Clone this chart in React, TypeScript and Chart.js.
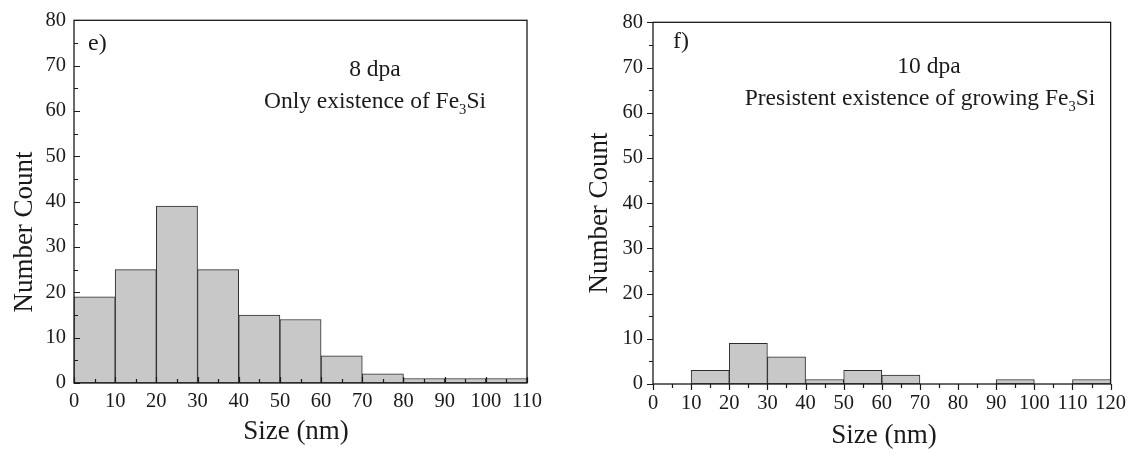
import React, { useEffect, useRef } from "react";
import { Chart, registerables } from "chart.js";

Chart.register(...registerables);

// ---- data ----
const binStartE = [0, 10, 20, 30, 40, 50, 60, 70, 80, 90, 100];
const countE = [19, 25, 39, 25, 15, 14, 6, 2, 1, 1, 1];
const binStartF = [0, 10, 20, 30, 40, 50, 60, 70, 80, 90, 100, 110];
const countF = [0, 3, 9, 6, 1, 3, 2, 0, 0, 1, 0, 1];
const binWidth = 10;
const yMax = 80;
const xMaxE = 110;
const xMaxF = 120;
const xTitle = "Size (nm)";
const yTitle = "Number Count";
const panelE = "e)";
const panelF = "f)";
const noteE1 = "8 dpa";
const noteE2 = [{ t: "Only existence of Fe" }, { t: "3", sub: true }, { t: "Si" }];
const noteF1 = "10 dpa";
const noteF2 = [{ t: "Presistent existence of growing Fe" }, { t: "3", sub: true }, { t: "Si" }];

const SERIF = "'Liberation Serif', 'Times New Roman', serif";
const INK = "#1a1a1a";

type Part = { t: string; sub?: boolean };

function drawRich(ctx: CanvasRenderingContext2D, parts: Part[], cx: number, y: number, size: number) {
  const subSize = size * 0.62;
  let total = 0;
  for (const p of parts) {
    ctx.font = `${p.sub ? subSize : size}px ${SERIF}`;
    total += ctx.measureText(p.t).width;
  }
  let x = cx - total / 2;
  ctx.textAlign = "left";
  ctx.textBaseline = "alphabetic";
  for (const p of parts) {
    ctx.font = `${p.sub ? subSize : size}px ${SERIF}`;
    ctx.fillText(p.t, x, p.sub ? y + size * 0.25 : y);
    x += ctx.measureText(p.t).width;
  }
}

type Cfg = {
  width: number;
  binStart: number[];
  counts: number[];
  xMax: number;
  area: { left: number; right: number; top: number; bottom: number };
  inward: boolean;
  panel: string;
  panelPos: [number, number];
  note1: string;
  note1Pos: [number, number];
  note2: Part[];
  note2Pos: [number, number];
  yTitlePos: [number, number];
  xTitlePos: [number, number];
  yPad: number;
  xPad: number;
};

function makeOverlay(c: Cfg) {
  return {
    id: "overlay",
    afterDraw(chart: any) {
      const ctx: CanvasRenderingContext2D = chart.ctx;
      const a = chart.chartArea;
      const xs = chart.scales.x;
      const ys = chart.scales.y;
      ctx.save();
      ctx.strokeStyle = INK;
      ctx.lineWidth = 1.3;
      ctx.strokeRect(a.left, a.top, a.right - a.left, a.bottom - a.top);
      ctx.lineWidth = 1.2;
      const dir = c.inward ? -1 : 1;
      ctx.beginPath();
      for (let v = 0; v <= c.xMax; v += 5) {
        const px = Math.round(xs.getPixelForValue(v)) + 0.5;
        const len = v % 10 === 0 ? 6 : 4;
        ctx.moveTo(px, a.bottom);
        ctx.lineTo(px, a.bottom + dir * len);
      }
      for (let v = 0; v <= yMax; v += 5) {
        const py = Math.round(ys.getPixelForValue(v)) + 0.5;
        const len = v % 10 === 0 ? 6 : 4;
        ctx.moveTo(a.left, py);
        ctx.lineTo(a.left - dir * len, py);
      }
      ctx.stroke();

      ctx.fillStyle = INK;
      ctx.font = `24px ${SERIF}`;
      ctx.textAlign = "left";
      ctx.textBaseline = "alphabetic";
      ctx.fillText(c.panel, c.panelPos[0], c.panelPos[1]);
      ctx.font = `23.5px ${SERIF}`;
      ctx.textAlign = "center";
      ctx.fillText(c.note1, c.note1Pos[0], c.note1Pos[1]);
      drawRich(ctx, c.note2, c.note2Pos[0], c.note2Pos[1], 23.5);

      ctx.font = `27px ${SERIF}`;
      ctx.textAlign = "center";
      ctx.textBaseline = "alphabetic";
      ctx.fillText(xTitle, c.xTitlePos[0], c.xTitlePos[1]);
      ctx.translate(c.yTitlePos[0], c.yTitlePos[1]);
      ctx.rotate(-Math.PI / 2);
      ctx.fillText(yTitle, 0, 0);
      ctx.restore();
    },
  };
}

function Hist({ c, left }: { c: Cfg; left: number }) {
  const ref = useRef<HTMLCanvasElement | null>(null);
  useEffect(() => {
    if (!ref.current) return;
    const a = c.area;
    const chart = new Chart(ref.current, {
      type: "bar",
      data: {
        datasets: [
          {
            data: c.binStart.map((s, i) => ({ x: s + binWidth / 2, y: c.counts[i] })),
            backgroundColor: "#c8c8c8",
            borderColor: "#2b2b2b",
            borderWidth: 1,
            borderSkipped: false,
            barPercentage: 1,
            categoryPercentage: 1,
          },
        ],
      },
      options: {
        animation: false,
        responsive: false,
        devicePixelRatio: 1,
        layout: { padding: { left: 0, top: a.top, right: c.width - a.right, bottom: 0 } },
        plugins: { legend: { display: false }, tooltip: { enabled: false } },
        scales: {
          x: {
            type: "linear",
            min: 0,
            max: c.xMax,
            offset: false,
            grid: { display: false, drawTicks: false },
            border: { display: false },
            ticks: {
              stepSize: 10,
              autoSkip: false,
              maxRotation: 0,
              padding: c.xPad,
              color: INK,
              font: { family: SERIF, size: 20.5 },
            },
            afterFit: (s: any) => {
              s.height = 450 - a.bottom;
            },
          },
          y: {
            min: 0,
            max: yMax,
            grid: { display: false, drawTicks: false },
            border: { display: false },
            ticks: {
              stepSize: 10,
              padding: c.yPad,
              color: INK,
              font: { family: SERIF, size: 20.5 },
            },
            afterFit: (s: any) => {
              s.width = a.left;
            },
          },
        },
      },
      plugins: [makeOverlay(c)],
    } as any);
    return () => chart.destroy();
  }, []);
  return (
    <canvas
      ref={ref}
      width={c.width}
      height={450}
      style={{ position: "absolute", left, top: 0, display: "block" }}
    />
  );
}

const cfgE: Cfg = {
  width: 566,
  binStart: binStartE,
  counts: countE,
  xMax: xMaxE,
  area: { left: 74, right: 527, top: 13, bottom: 383 },
  inward: true,
  panel: panelE,
  panelPos: [88, 50],
  note1: noteE1,
  note1Pos: [375, 76],
  note2: noteE2,
  note2Pos: [375, 108],
  yTitlePos: [32, 232],
  xTitlePos: [296, 439],
  yPad: 8,
  xPad: 6,
};

const cfgF: Cfg = {
  width: 567,
  binStart: binStartF,
  counts: countF,
  xMax: xMaxF,
  area: { left: 87, right: 546, top: 12, bottom: 384 },
  inward: false,
  panel: panelF,
  panelPos: [107, 48],
  note1: noteF1,
  note1Pos: [363, 73],
  note2: noteF2,
  note2Pos: [354, 105],
  yTitlePos: [41, 213],
  xTitlePos: [318, 443],
  yPad: 10,
  xPad: 7,
};

export default function App() {
  return (
    <div style={{ position: "absolute", left: 0, top: 0, width: 1133, height: 450, background: "#fff" }}>
      <Hist c={cfgE} left={0} />
      <Hist c={cfgF} left={566} />
    </div>
  );
}
